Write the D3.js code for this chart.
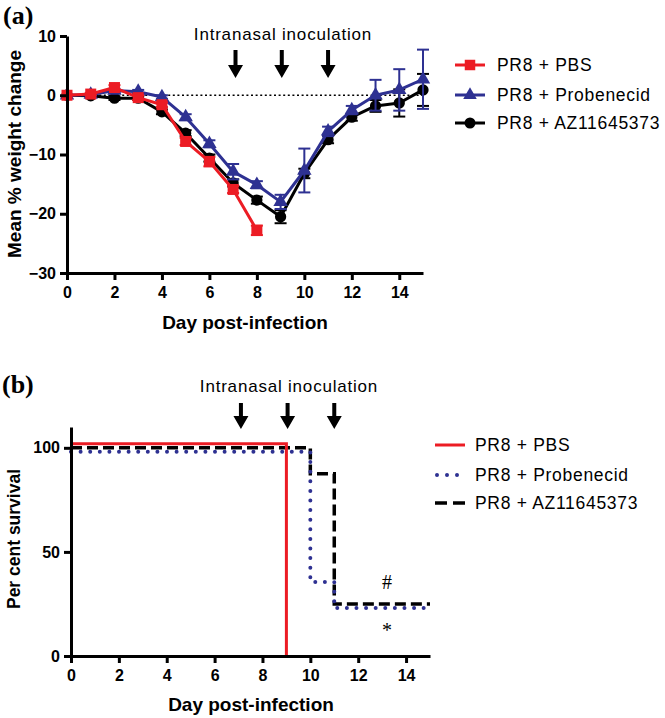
<!DOCTYPE html>
<html>
<head>
<meta charset="utf-8">
<script src="https://cdn.jsdelivr.net/npm/d3@7/dist/d3.min.js"></script>
<style>
  html, body { margin: 0; padding: 0; background: #fff; }
  svg { display: block; }
</style>
</head>
<body>
<svg id="chart" width="665" height="718"></svg>
<script>
// ---------------- DATA ----------------
const seriesNames = ["PR8 + PBS", "PR8 + Probenecid", "PR8 + AZ11645373"];
const days = [0, 1, 2, 3, 4, 5, 6, 7, 8, 9, 10, 11, 12, 13, 14, 15];
const daysPBS = [0, 1, 2, 3, 4, 5, 6, 7, 8];

// Panel (a): mean % weight change
const weightPBS  = [0, 0.2, 1.3, -0.4, -1.6, -7.8, -11.2, -15.9, -22.8];
const errPBS     = [0, 0.2, 0.4, 0.4, 0.4, 0.6, 0.8, 0.6, 0.8];
const weightProb = [0, 0.1, 0.8, 0.6, -0.3, -3.7, -8.2, -12.9, -15.1, -18.0, -12.7, -6.1, -2.5, 0.0, 0.9, 2.7];
const errProb    = [0, 0.1, 0.3, 0.3, 0.3, 0.5, 0.6, 1.3, 0.6, 1.2, 3.7, 0.8, 0.7, 2.6, 3.5, 5.0];
const weightAZ   = [0, -0.1, -0.5, -0.5, -2.8, -6.4, -10.6, -14.8, -17.7, -20.5, -13.2, -7.5, -3.7, -1.8, -1.3, 0.9];
const errAZ      = [0, 0.1, 0.3, 0.3, 0.4, 0.5, 0.6, 0.6, 0.6, 1.1, 0.8, 0.6, 0.6, 1.0, 2.3, 2.7];

// Panel (b): per cent survival (Kaplan-Meier steps)
const survDaysPBS  = [0, 9];
const survPBS      = [100, 0];
const survDaysProb = [0, 10, 11, 15];
const survProb     = [100, 37.5, 25, 25];
const survDaysAZ   = [0, 10, 11, 15];
const survAZ       = [100, 87.5, 25, 25];

// Inoculation days (arrows)
const inoculationDays = [7.1, 9.05, 11];
const xTicks = [0, 2, 4, 6, 8, 10, 12, 14];
const yTicksA = [-30, -20, -10, 0, 10];
const yTicksB = [0, 50, 100];
const annotations = [{ text: "#", day: 13.2, value: 32 }, { text: "*", day: 13.2, value: 9 }];

// ---------------- STYLE ----------------
const RED = "#ec1c24", BLUE = "#2e3192", BLACK = "#000";
const SANS = '"Liberation Sans", Arial, sans-serif';
const SERIF = '"Liberation Serif", "Times New Roman", serif';

const svg = d3.select("#chart");

function styleAxis(g) {
  g.select(".domain").attr("stroke", "#000").attr("stroke-width", 3);
  g.selectAll(".tick line").attr("stroke", "#000").attr("stroke-width", 3);
  g.selectAll(".tick text").attr("font-family", SANS).attr("font-weight", "bold")
    .attr("font-size", 16).attr("fill", "#000");
}

function arrow(g, x, yTop, yTip) {
  const headH = 13, headW = 15, shaft = 4;
  g.append("path")
    .attr("d", `M${x - shaft / 2},${yTop} L${x + shaft / 2},${yTop} L${x + shaft / 2},${yTip - headH} L${x + headW / 2},${yTip - headH} L${x},${yTip} L${x - headW / 2},${yTip - headH} L${x - shaft / 2},${yTip - headH} Z`)
    .attr("fill", "#000");
}

// ================= PANEL (a) =================
{
  const x = d3.scaleLinear().domain([0, 15]).range([67, 423]);
  const y = d3.scaleLinear().domain([-30, 10]).range([273, 36]);
  const g = svg.append("g");

  // zero dotted line
  g.append("line")
    .attr("x1", x(0)).attr("x2", x(15)).attr("y1", y(0)).attr("y2", y(0))
    .attr("stroke", "#000").attr("stroke-width", 1.6).attr("stroke-dasharray", "2,2.6");

  const series = [
    { name: seriesNames[2], xs: days, ys: weightAZ, err: errAZ, color: BLACK, sym: d3.symbolCircle, size: 100 },
    { name: seriesNames[1], xs: days, ys: weightProb, err: errProb, color: BLUE, sym: d3.symbolTriangle, size: 90 },
    { name: seriesNames[0], xs: daysPBS, ys: weightPBS, err: errPBS, color: RED, sym: d3.symbolSquare, size: 121 }
  ];

  const line = d3.line().x(d => x(d[0])).y(d => y(d[1]));

  series.forEach(s => {
    const pts = s.xs.map((d, i) => [d, s.ys[i], s.err[i]]);
    const sg = g.append("g");
    // error bars
    pts.forEach(p => {
      if (!p[2]) return;
      const cx = x(p[0]), t = y(p[1] + p[2]), b = y(p[1] - p[2]);
      sg.append("line").attr("x1", cx).attr("x2", cx).attr("y1", t).attr("y2", b)
        .attr("stroke", s.color).attr("stroke-width", 2);
      [t, b].forEach(yy => sg.append("line").attr("x1", cx - 6).attr("x2", cx + 6).attr("y1", yy).attr("y2", yy)
        .attr("stroke", s.color).attr("stroke-width", 2));
    });
    sg.append("path").attr("d", line(pts)).attr("fill", "none")
      .attr("stroke", s.color).attr("stroke-width", 3).attr("stroke-linejoin", "round");
    sg.selectAll("path.m").data(pts).join("path").attr("class", "m")
      .attr("transform", d => `translate(${x(d[0])},${y(d[1])})`)
      .attr("d", d3.symbol().type(s.sym).size(s.size))
      .attr("fill", s.color);
  });

  // axes
  const xa = g.append("g").attr("transform", `translate(0,${y(-30)})`)
    .call(d3.axisBottom(x).tickValues(xTicks).tickSize(7).tickSizeOuter(0).tickPadding(7));
  styleAxis(xa);
  const ya = g.append("g").attr("transform", `translate(${x(0)},0)`)
    .call(d3.axisLeft(y).tickValues(yTicksA).tickSize(7).tickSizeOuter(0).tickPadding(4)
      .tickFormat(d => d < 0 ? "\u2212" + Math.abs(d) : d));
  styleAxis(ya);

  // titles
  g.append("text").attr("x", 245).attr("y", 329).attr("text-anchor", "middle")
    .attr("font-family", SANS).attr("font-weight", "bold").attr("font-size", 19).text("Day post-infection");
  g.append("text").attr("transform", `translate(21,154) rotate(-90)`).attr("text-anchor", "middle")
    .attr("font-family", SANS).attr("font-weight", "bold").attr("font-size", 19).text("Mean % weight change");

  g.append("text").attr("x", 3).attr("y", 24).attr("font-family", SERIF).attr("font-weight", "bold")
    .attr("font-size", 26).text("(a)");

  g.append("text").attr("x", 283).attr("y", 39.5).attr("text-anchor", "middle")
    .attr("font-family", SANS).attr("font-size", 17).attr("letter-spacing", 0.8).text("Intranasal inoculation");
  inoculationDays.forEach(d => arrow(g, x(d), 50, 78));

  // legend
  const leg = [
    { name: seriesNames[0], color: RED, sym: d3.symbolSquare, size: 110 },
    { name: seriesNames[1], color: BLUE, sym: d3.symbolTriangle, size: 80 },
    { name: seriesNames[2], color: BLACK, sym: d3.symbolCircle, size: 95 }
  ];
  const ly = [65, 95, 123];
  leg.forEach((l, i) => {
    g.append("line").attr("x1", 455).attr("x2", 485).attr("y1", ly[i]).attr("y2", ly[i])
      .attr("stroke", l.color).attr("stroke-width", 3);
    g.append("path").attr("transform", `translate(470,${ly[i]})`)
      .attr("d", d3.symbol().type(l.sym).size(l.size)).attr("fill", l.color);
    g.append("text").attr("x", 497).attr("y", ly[i] + 6).attr("font-family", SANS)
      .attr("font-size", 17.5).attr("letter-spacing", 0.7).text(l.name);
  });
}

// ================= PANEL (b) =================
{
  const x = d3.scaleLinear().domain([0, 15]).range([71, 430]);
  const y = d3.scaleLinear().domain([0, 110]).range([656, 427]);
  const g = svg.append("g");

  const series = [
    { xs: survDaysAZ, ys: survAZ, color: BLACK, width: 3.5, dash: "11,5", cap: "butt", off: 0 },
    { xs: survDaysProb, ys: survProb, color: BLUE, width: 4, dash: "0,9.6", cap: "round", off: 4 },
    { xs: survDaysPBS, ys: survPBS, color: RED, width: 3, dash: null, cap: "butt", off: -4 }
  ];
  series.forEach(s => {
    const pts = s.xs.map((d, i) => [d, s.ys[i]]);
    const ln = d3.line().curve(d3.curveStepAfter)
      .x(d => x(d[0])).y(d => y(d[1]) + (d[1] > 0 ? s.off : 0));
    g.append("path").attr("d", ln(pts)).attr("fill", "none")
      .attr("stroke", s.color).attr("stroke-width", s.width)
      .attr("stroke-dasharray", s.dash).attr("stroke-linecap", s.cap);
  });

  annotations.forEach(a => {
    g.append("text").attr("x", x(a.day)).attr("y", y(a.value)).attr("text-anchor", "middle")
      .attr("font-family", SERIF).attr("font-size", 20).text(a.text);
  });

  const xa = g.append("g").attr("transform", `translate(0,${y(0)})`)
    .call(d3.axisBottom(x).tickValues(xTicks).tickSize(7).tickSizeOuter(0).tickPadding(7));
  styleAxis(xa);
  const ya = g.append("g").attr("transform", `translate(${x(0)},0)`)
    .call(d3.axisLeft(y).tickValues(yTicksB).tickSize(7).tickSizeOuter(0).tickPadding(4));
  styleAxis(ya);

  g.append("text").attr("x", 251).attr("y", 711).attr("text-anchor", "middle")
    .attr("font-family", SANS).attr("font-weight", "bold").attr("font-size", 19).text("Day post-infection");
  g.append("text").attr("transform", `translate(20,539) rotate(-90)`).attr("text-anchor", "middle")
    .attr("font-family", SANS).attr("font-weight", "bold").attr("font-size", 17.5).text("Per cent survival");

  g.append("text").attr("x", 2).attr("y", 393).attr("font-family", SERIF).attr("font-weight", "bold")
    .attr("font-size", 26).text("(b)");

  g.append("text").attr("x", 289).attr("y", 392).attr("text-anchor", "middle")
    .attr("font-family", SANS).attr("font-size", 17).attr("letter-spacing", 0.8).text("Intranasal inoculation");
  inoculationDays.forEach(d => arrow(g, x(d), 403, 429));

  // legend
  const leg = [
    { name: seriesNames[0], color: RED, width: 3, dash: null, cap: "butt" },
    { name: seriesNames[1], color: BLUE, width: 4, dash: "0,10", cap: "round" },
    { name: seriesNames[2], color: BLACK, width: 3.5, dash: "12,6", cap: "butt" }
  ];
  const ly = [445, 475, 503];
  leg.forEach((l, i) => {
    const x1 = i === 1 ? 437 : 435, x2 = i === 1 ? 459 : 465;
    g.append("line").attr("x1", x1).attr("x2", x2).attr("y1", ly[i]).attr("y2", ly[i])
      .attr("stroke", l.color).attr("stroke-width", l.width)
      .attr("stroke-dasharray", l.dash).attr("stroke-linecap", l.cap);
    g.append("text").attr("x", 475).attr("y", ly[i] + 6).attr("font-family", SANS)
      .attr("font-size", 17.5).attr("letter-spacing", 0.7).text(l.name);
  });
}
</script>
</body>
</html>
